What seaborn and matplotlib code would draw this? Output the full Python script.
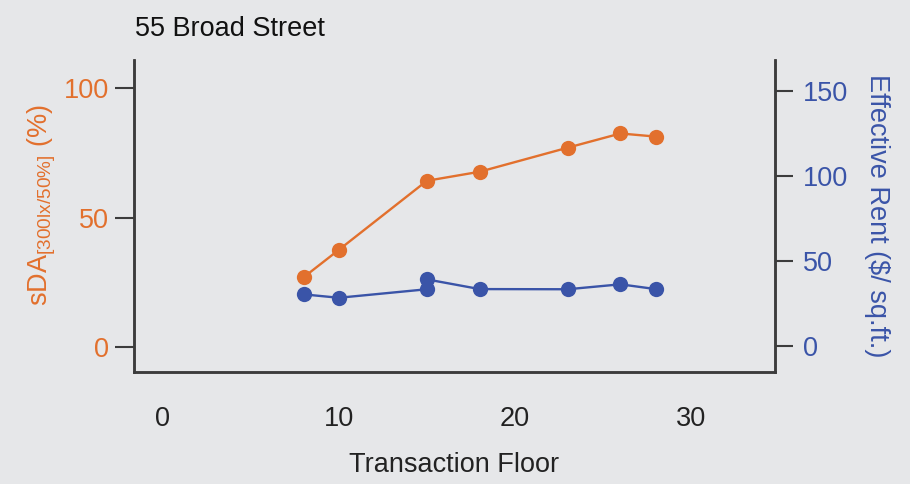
import matplotlib
matplotlib.use("Agg")
import matplotlib.pyplot as plt
import seaborn as sns
import pandas as pd

# values
FLOORS_SDA = [8, 10, 15, 18, 23, 26, 28]
SDA = [27, 37.6, 64.3, 67.8, 77.1, 82.6, 81.4]

FLOORS_RENT = [8, 10, 15, 15, 18, 23, 26, 28]
RENT = [30.4, 28.4, 33.4, 39.2, 33.5, 33.4, 36.3, 33.5]

X_TICKS = [0, 10, 20, 30]
SDA_TICKS = [0, 50, 100]
RENT_TICKS = [0, 50, 100, 150]

ORANGE = "#E2702D"
BLUE = "#3A54A8"
BG = "#E6E7E9"
SPINE = "#3C3C3C"
FS = 19.5


def broad_street():
    sns.set_style("white", {"axes.facecolor": BG, "figure.facecolor": BG})
    plt.rcParams["font.family"] = ["Liberation Sans", "DejaVu Sans"]
    plt.rcParams["mathtext.fontset"] = "custom"
    plt.rcParams["mathtext.rm"] = "Liberation Sans"
    plt.rcParams["mathtext.it"] = "Liberation Sans"
    plt.rcParams["mathtext.default"] = "regular"

    fig = plt.figure(figsize=(9.1, 4.84), dpi=100)
    ax = fig.add_axes([0.147, 0.231, 0.705, 0.645])
    ax2 = ax.twinx()

    df_sda = pd.DataFrame({"floor": FLOORS_SDA, "sda": SDA})
    df_rent = pd.DataFrame({"floor": FLOORS_RENT, "rent": RENT})

    sns.lineplot(data=df_sda, x="floor", y="sda", ax=ax, color=ORANGE,
                 marker="o", markersize=11, markeredgewidth=0, linewidth=1.7,
                 sort=False, estimator=None)
    sns.lineplot(data=df_rent, x="floor", y="rent", ax=ax2, color=BLUE,
                 marker="o", markersize=11, markeredgewidth=0, linewidth=1.7,
                 sort=False, estimator=None)

    ax.set_xlim(-1.65, 34.8)
    ax.set_ylim(-9.7, 111)
    ax2.set_ylim(-15.3, 168)

    ax.set_xticks(X_TICKS)
    ax.set_yticks(SDA_TICKS)
    ax2.set_yticks(RENT_TICKS)

    for a in (ax, ax2):
        a.spines["top"].set_visible(False)
        for s in a.spines.values():
            s.set_color(SPINE)
            s.set_linewidth(1.8)
        a.set_facecolor("none")
    ax.set_facecolor(BG)

    ax.tick_params(axis="x", direction="out", length=14, width=1.5,
                   color=SPINE, labelcolor="#222222", labelsize=FS, pad=10)
    ax.tick_params(axis="y", direction="out", length=14, width=1.5,
                   color=SPINE, labelcolor=ORANGE, labelsize=FS, pad=4)
    ax2.tick_params(axis="y", direction="out", length=13, width=1.5,
                    color=SPINE, labelcolor=BLUE, labelsize=FS, pad=7)

    ax.set_xlabel("Transaction Floor", fontsize=FS, color="#222222", labelpad=15)
    ax.set_ylabel(r"sDA$_{[300lx/50\%]}$ (%)", fontsize=FS, color=ORANGE)
    ax.yaxis.set_label_coords(-0.118, 0.535)
    ax2.set_ylabel("Effective Rent ($/ sq.ft.)", fontsize=FS, color=BLUE,
                   rotation=270, labelpad=30)

    fig.text(0.148, 0.94, "55 Broad Street", fontsize=FS, color="#111111",
             ha="left", va="center")

    fig.savefig("out.png", dpi=100, facecolor=BG)


broad_street()
